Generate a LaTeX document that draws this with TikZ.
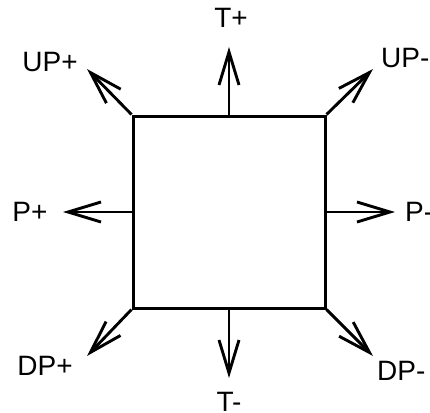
\documentclass[tikz,border=0pt]{standalone}
\usepackage{fontspec}
\setmainfont{Liberation Sans}
\usetikzlibrary{arrows.meta}
\begin{document}
\begin{tikzpicture}[x=1pt,y=-1pt,
  edge/.style={line width=2.9pt, -{Straight Barb[length=33pt,width=20pt,line width=2.9pt]}},
  lbl/.style={font=\fontsize{28}{30}\selectfont, inner sep=0pt}]
\useasboundingbox (0,0) rectangle (430,412);
\node[draw, line width=3pt, minimum size=192pt, inner sep=0pt] (sq) at (229,212) {};
\coordinate (tT) at (229,47);
\coordinate (tB) at (229,378);
\coordinate (tL) at (63,212);
\coordinate (tR) at (395,212);
\coordinate (tUL) at (87,69);
\coordinate (tUR) at (373,69);
\coordinate (tDL) at (87,356);
\coordinate (tDR) at (373,356);
\draw[edge] (sq.north) -- (tT);
\draw[edge] (sq.south) -- (tB);
\draw[edge] (sq.west) -- (tL);
\draw[edge] (sq.east) -- (tR);
\draw[edge] (sq.north west) -- (tUL);
\draw[edge] (sq.north east) -- (tUR);
\draw[edge] (sq.south west) -- (tDL);
\draw[edge] (sq.south east) -- (tDR);
\node[lbl] (lT) at (231,18) {T+};
\node[lbl] (lB) at (229,402) {T-};
\node[lbl] (lL) at (30,212) {P+};
\node[lbl, anchor=west] (lR) at (405,212) {P-};
\node[lbl] (lUL) at (50,62) {UP+};
\node[lbl, anchor=west] (lUR) at (381,58) {UP-};
\node[lbl] (lDL) at (45,366) {DP+};
\node[lbl, anchor=west] (lDR) at (377,371) {DP-};
\end{tikzpicture}
\end{document}
